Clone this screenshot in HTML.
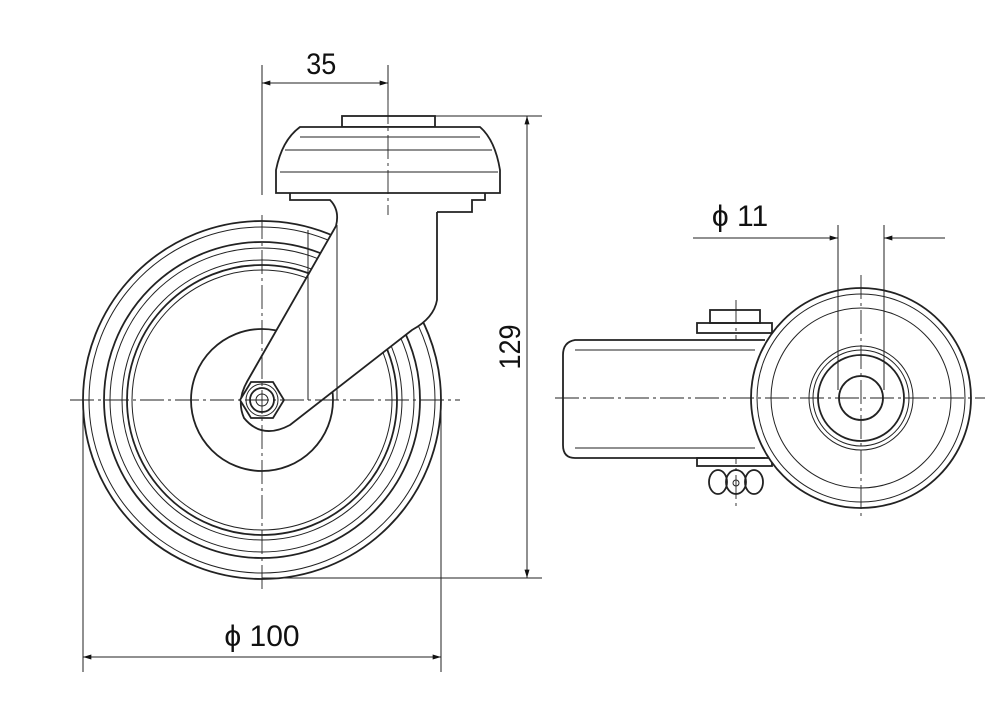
<!DOCTYPE html>
<html><head><style>
html,body{margin:0;padding:0;background:#fff;}
svg{display:block;}
text{font-family:"Liberation Sans",sans-serif;fill:#111;}
</style></head><body>
<svg width="1000" height="720" viewBox="0 0 1000 720" xmlns="http://www.w3.org/2000/svg">
<defs>
<marker id="a" viewBox="0 0 10 6" refX="10" refY="3" markerWidth="12" markerHeight="5" orient="auto-start-reverse" markerUnits="userSpaceOnUse"><path d="M0,0L10,3L0,6z" fill="#111"/></marker>
</defs>
<g fill="none" stroke="#222" stroke-width="1">
<!-- left view wheel -->
<g stroke-width="1.8">
<circle cx="262" cy="400" r="179"/>
<circle cx="262" cy="400" r="158"/>
<circle cx="262" cy="400" r="135"/>
</g>
<circle cx="262" cy="400" r="173"/>
<circle cx="262" cy="400" r="152"/>
<circle cx="262" cy="400" r="140"/>
<circle cx="262" cy="400" r="130"/>
<circle cx="262" cy="400" r="71" fill="#fff" stroke-width="1.8"/>
<!-- fork head -->
<g stroke-width="1.8">
<path d="M290,193 L485,193 L485,210 L437,212 L437,300 Q435,318 412,330 L290,425 Q262,440 244,418 Q236,400 248,380 L336,226 Q340,210 330,200 L290,200 Z" fill="#fff" stroke="none"/>
<path d="M336,226 L248,380 Q236,400 244,418 Q262,440 290,425 L412,330 Q434,318 437,300 L437,212"/>
<path d="M290,193 L290,200 L330,200 Q340,210 336,226 M437,212 L472,212 L472,200 L485,200 L485,193"/>
<rect x="342" y="116" width="93" height="11" fill="#fff"/>
<path d="M276,193 L276,170 Q282,140 300,127 L480,127 Q495,140 500,170 L500,193 Z" fill="#fff"/>
</g>
<path d="M285,150 L492,150 M280,172 L498,172 M300,137 L480,137"/>
<path d="M308,230 L308,400 M337,225 L337,400"/>
<g stroke-width="1.8">
<polygon points="240,400 251,382 273,382 284,400 273,418 251,418" fill="#fff"/>
<circle cx="262" cy="400" r="12"/>
</g>
<circle cx="262" cy="400" r="16"/>
<circle cx="262" cy="400" r="6"/>
<!-- centerlines -->
<g stroke-dasharray="24,4,3,4" stroke-width="0.9">
<path d="M70,400 L460,400"/>
<path d="M262,215 L262,590"/>
<path d="M388,100 L388,215"/>
<path d="M736,300 L736,510"/>
</g>
<!-- dims left -->
<path d="M262,65 L262,195 M388,65 L388,100"/>
<path d="M262,83 L388,83" marker-start="url(#a)" marker-end="url(#a)"/>
<path d="M435,116 L542,116 M262,578 L542,578"/>
<path d="M527,116 L527,578" marker-start="url(#a)" marker-end="url(#a)"/>
<path d="M83,400 L83,672 M441,400 L441,672"/>
<path d="M83,657 L441,657" marker-start="url(#a)" marker-end="url(#a)"/>
<!-- right view -->
<g stroke-width="1.8">
<path d="M765,340 L575,340 Q563,342 563,355 L563,445 Q563,458 575,458 L765,458" fill="#fff"/>
<rect x="697" y="323" width="75" height="10"/>
<rect x="710" y="310" width="50" height="13"/>
<rect x="697" y="458" width="75" height="8"/>
<ellipse cx="718" cy="482" rx="9" ry="12"/>
<ellipse cx="736" cy="482" rx="10" ry="12"/>
<ellipse cx="754" cy="482" rx="9" ry="12"/>
<circle cx="861" cy="398" r="110" fill="#fff"/>
<circle cx="861" cy="398" r="43"/>
<circle cx="861" cy="398" r="22"/>
</g>
<circle cx="736" cy="483" r="3"/>
<path d="M575,350 L755,350 M575,448 L755,448"/>
<circle cx="861" cy="398" r="104"/>
<circle cx="861" cy="398" r="90"/>
<circle cx="861" cy="398" r="48"/>
<circle cx="861" cy="398" r="52"/>
<path d="M555,398 L985,398" stroke-dasharray="24,4,3,4" stroke-width="0.9"/>
<path d="M861,275 L861,520" stroke-dasharray="24,4,3,4" stroke-width="0.9"/>
<path d="M838,225 L838,390 M884,225 L884,390"/>
<path d="M693,238 L838,238" marker-end="url(#a)"/>
<path d="M945,238 L884,238" marker-end="url(#a)"/>
</g>
<text x="322" y="74" font-size="30" text-anchor="middle" transform="scale(0.9,1) translate(35,0)">35</text>
<text transform="translate(520,347) rotate(-90) scale(0.9,1)" font-size="30" text-anchor="middle">129</text>
<text x="262" y="646" font-size="30" text-anchor="middle">ϕ 100</text>
<text x="740" y="226" font-size="30" text-anchor="middle">ϕ 11</text>
</svg>
</body></html>
